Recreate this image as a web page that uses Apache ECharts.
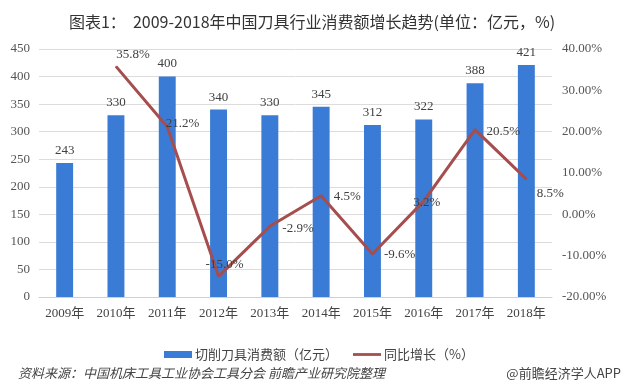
<!DOCTYPE html>
<html><head><meta charset="utf-8">
<script src="https://cdn.jsdelivr.net/npm/echarts@6/dist/echarts.min.js"></script>
<style>html,body{margin:0;padding:0;background:#fff}#c{width:624px;height:385px}</style>
</head><body><div id="c"></div>
<script>
const categories = ['2009年','2010年','2011年','2012年','2013年','2014年','2015年','2016年','2017年','2018年'];
const consumption = [243,330,400,340,330,345,312,322,388,421];
const growth = [null,35.8,21.2,-15.0,-2.9,4.5,-9.6,3.2,20.5,8.5];
const leftTicks = [0,50,100,150,200,250,300,350,400,450];
const rightTicks = [-20,-10,0,10,20,30,40];

const serif = "'Liberation Serif','Noto Sans CJK SC'";
const chart = echarts.init(document.getElementById('c'));
const labelPos = ['right','top','right','top','right','right','right','inside','right','right'];
const labelOff = [[0,0],[17,0],[-7,-3],[6,0],[7,2],[7,1],[6,1],[3,1],[6,2],[5,14]];
chart.setOption({
  animation:false,
  title:{text:'图表1：  2009-2018年中国刀具行业消费额增长趋势(单位：亿元，%)',left:'center',top:9,
    textStyle:{fontFamily:"'Noto Sans CJK SC'",fontSize:16,fontWeight:'normal',color:'#333'}},
  grid:{left:39,right:72,top:49,bottom:88},
  legend:{top:343,left:159,itemGap:15,itemWidth:28,itemHeight:7,
    textStyle:{fontFamily:"'Noto Sans CJK SC'",fontSize:13,color:'#444',padding:[0,0,0,-2]},
    data:[{name:'切削刀具消费额（亿元）',icon:'rect'},
          {name:'同比增长（%）',icon:'path://M0,0H30V3H0Z',itemStyle:{color:'#a64d4d'}}]},
  xAxis:{type:'category',data:categories,axisTick:{show:false},
    axisLine:{lineStyle:{color:'#d0d0d0'}},
    axisLabel:{fontFamily:serif,fontSize:13,color:'#444',margin:10}},
  yAxis:[
    {type:'value',min:leftTicks[0],max:leftTicks[leftTicks.length-1],interval:50,
     axisLabel:{fontFamily:serif,fontSize:13,color:'#555',margin:9},
     splitLine:{lineStyle:{color:'#dcdcdc'}},axisLine:{show:false},axisTick:{show:false}},
    {type:'value',min:rightTicks[0],max:rightTicks[rightTicks.length-1],interval:10,
     axisLabel:{fontFamily:serif,fontSize:13,color:'#555',margin:10,formatter:v=>v.toFixed(2)+'%'},
     splitLine:{show:false},axisLine:{show:false},axisTick:{show:false}}
  ],
  series:[
    {name:'切削刀具消费额（亿元）',type:'bar',data:consumption,barWidth:'33%',
     itemStyle:{color:'#3a7bd5'},
     label:{show:true,position:'top',fontFamily:serif,fontSize:13,color:'#404040',distance:6}},
    {name:'同比增长（%）',type:'line',yAxisIndex:1,symbol:'circle',symbolSize:1,showSymbol:true,
     lineStyle:{color:'#a64d4d',width:3},itemStyle:{color:'#a64d4d'},
     data:growth.map((v,i)=>({value:v,label:{position:labelPos[i],offset:labelOff[i]}})),
     label:{show:true,fontFamily:serif,fontSize:13,color:'#404040',
       formatter:p=>(p.value==null||isNaN(p.value))?'':Number(p.value).toFixed(1)+'%'}}
  ],
  graphic:[
    {type:'text',left:18,top:367,style:{text:'资料来源：中国机床工具工业协会工具分会 前瞻产业研究院整理',
      font:"italic 13px 'Noto Sans CJK SC'",fill:'#444'}},
    {type:'text',right:3,top:367,style:{text:'@前瞻经济学人APP',font:"13px 'Noto Sans CJK SC'",fill:'#444'}}
  ]
});
</script></body></html>
